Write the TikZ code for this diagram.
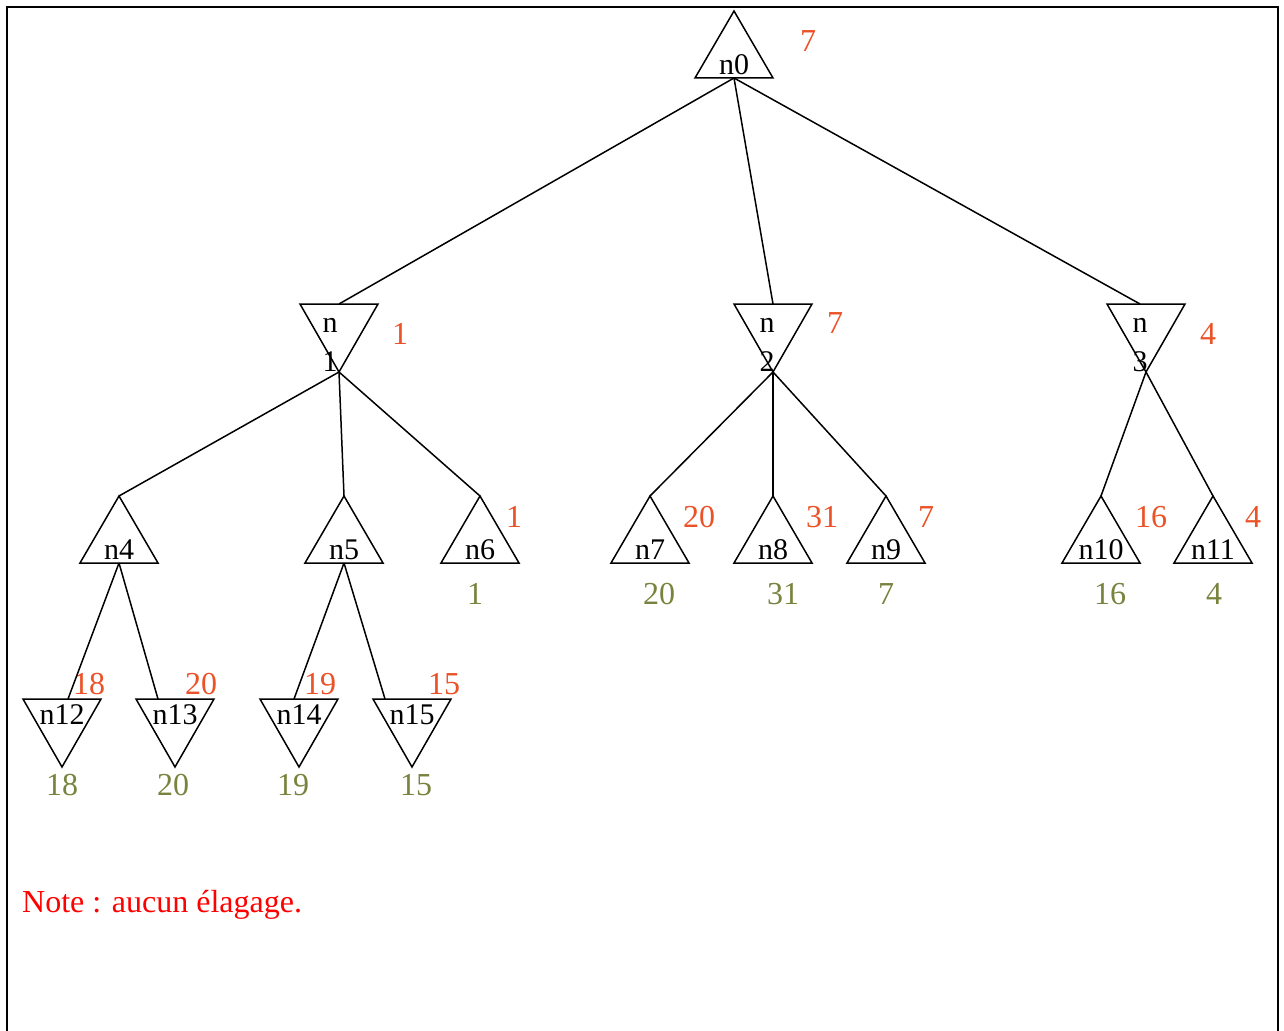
\documentclass[tikz,border=0pt]{standalone}
\usepackage{fontspec}
\setmainfont{Liberation Serif}
\definecolor{valc}{RGB}{236,82,40}
\definecolor{leafc}{RGB}{118,132,62}
\definecolor{notec}{RGB}{255,0,0}
\newcommand\UpTri[4]{% name, label, x, apex y
  \coordinate (#1t) at (#3,#4);
  \coordinate (#1b) at (#3,#4+67);
  \draw[tri] (#3,#4) -- (#3-39,#4+67) -- (#3+39,#4+67) -- cycle;
  \node[lbl] (#1) at (#3,#4+54) {#2};
}
\newcommand\DownTri[3]{% name, x, top y
  \coordinate (#1t) at (#2,#3);
  \coordinate (#1b) at (#2,#3+68);
  \draw[tri] (#2-39,#3) -- (#2+39,#3) -- (#2,#3+68) -- cycle;
}
\begin{document}
\begin{tikzpicture}[x=1pt,y=-1pt,
  tri/.style={line width=1.5pt, line join=miter},
  edge/.style={line width=1.5pt},
  lbl/.style={font=\fontsize{30}{30}\selectfont, inner sep=0pt, anchor=center},
  val/.style={text=valc, font=\fontsize{32}{32}\selectfont, inner sep=0pt},
  leaf/.style={text=leafc, font=\fontsize{32}{32}\selectfont, inner sep=0pt}]
\useasboundingbox (0,0) rectangle (1284,1030);
% frame
\draw[line width=2.2pt] (7,1031) -- (7,7) -- (1278,7) -- (1278,1031);

% root
\UpTri{n0}{n0}{734}{11}
\node[val] (v0) at (808,41) {7};

% level 1 (min nodes)
\DownTri{n1}{339}{304}
\node[lbl] (n1) at (330,325) {n};
\node[lbl] (n1x) at (330,362) {1};
\node[val] (v1) at (400,334) {1};
\DownTri{n2}{773}{304}
\node[lbl] (n2) at (767,325) {n};
\node[lbl] (n2x) at (767,362) {2};
\node[val] (v2) at (835,323) {7};
\DownTri{n3}{1146}{304}
\node[lbl] (n3) at (1140,325) {n};
\node[lbl] (n3x) at (1140,362) {3};
\node[val] (v3) at (1208,334) {4};
\coordinate (n3in) at (1140,304);

% level 2 (max nodes)
\UpTri{n4}{n4}{119}{496}
\UpTri{n5}{n5}{344}{496}
\UpTri{n6}{n6}{480}{496}
\node[val] (v6) at (514,517) {1};
\node[leaf] (l6) at (475,594) {1};
\UpTri{n7}{n7}{650}{496}
\node[val] (v7) at (699,517) {20};
\node[leaf] (l7) at (659,594) {20};
\UpTri{n8}{n8}{773}{496}
\node[val] (v8) at (822,517) {31};
\node[leaf] (l8) at (783,594) {31};
\UpTri{n9}{n9}{886}{496}
\node[val] (v9) at (926,517) {7};
\node[leaf] (l9) at (886,594) {7};
\UpTri{n10}{n10}{1101}{496}
\node[val] (v10) at (1151,517) {16};
\node[leaf] (l10) at (1110,594) {16};
\UpTri{n11}{n11}{1213}{496}
\node[val] (v11) at (1253,517) {4};
\node[leaf] (l11) at (1214,594) {4};

% level 3 (min leaves)
\DownTri{n12}{62}{699}
\node[lbl] (n12) at (62,715) {n12};
\node[val] (v12) at (89,684) {18};
\node[leaf] (l12) at (62,785) {18};
\coordinate (n12in) at (68,699);
\DownTri{n13}{175}{699}
\node[lbl] (n13) at (175,715) {n13};
\node[val] (v13) at (201,684) {20};
\node[leaf] (l13) at (173,785) {20};
\coordinate (n13in) at (158,699);
\DownTri{n14}{299}{699}
\node[lbl] (n14) at (299,715) {n14};
\node[val] (v14) at (320,684) {19};
\node[leaf] (l14) at (293,785) {19};
\coordinate (n14in) at (294,699);
\DownTri{n15}{412}{699}
\node[lbl] (n15) at (412,715) {n15};
\node[val] (v15) at (444,684) {15};
\node[leaf] (l15) at (416,785) {15};
\coordinate (n15in) at (385,699);

% edges
\draw[edge] (n0b) -- (n1t);
\draw[edge] (n0b) -- (n2t);
\draw[edge] (n0b) -- (n3in);
\draw[edge] (n1b) -- (n4t);
\draw[edge] (n1b) -- (n5t);
\draw[edge] (n1b) -- (n6t);
\draw[edge] (n2b) -- (n7t);
\draw[edge] (n2b) -- (n8t);
\draw[edge] (n2b) -- (n9t);
\draw[edge] (n3b) -- (n10t);
\draw[edge] (n3b) -- (n11t);
\draw[edge] (n4b) -- (n12in);
\draw[edge] (n4b) -- (n13in);
\draw[edge] (n5b) -- (n14in);
\draw[edge] (n5b) -- (n15in);

% note
\node[text=notec, font=\fontsize{32}{32}\selectfont, inner sep=0pt, anchor=west] (note) at (22,905) {Note : aucun élagage.};
\end{tikzpicture}
\end{document}
